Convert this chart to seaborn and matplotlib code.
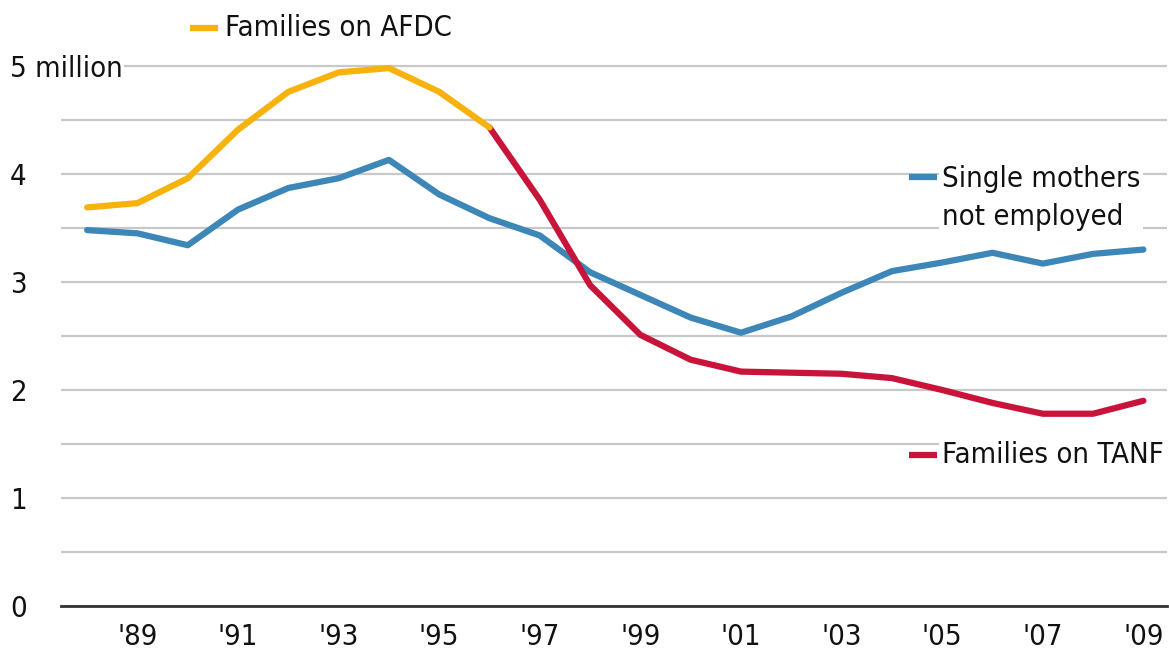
import pandas as pd
import numpy as np
import matplotlib.pyplot as plt
import seaborn as sns

# --------------------------------------------------
# DATA (millions)
# --------------------------------------------------

years = list(range(1988, 2010))
single_mothers = [3.48, 3.45, 3.34, 3.67, 3.87, 3.96, 4.13, 3.81, 3.59, 3.43, 3.09,
                  2.88, 2.67, 2.53, 2.68, 2.90, 3.10, 3.18, 3.27, 3.17, 3.26, 3.30]

afdc_years = list(range(1988, 1997))
afdc = [3.69, 3.73, 3.96, 4.41, 4.76, 4.94, 4.98, 4.76, 4.43]

tanf_years = list(range(1996, 2010))
tanf = [4.43, 3.76, 2.97, 2.51, 2.28, 2.17, 2.16, 2.15, 2.11, 2.00, 1.88, 1.78, 1.78, 1.90]

y_ticks = [0, 1, 2, 3, 4, 5]
y_labels = ["0", "1", "2", "3", "4", "5 million"]

series_names = ["Single mothers not employed", "Families on AFDC", "Families on TANF"]
colors = {"Single mothers not employed": "#3C86B8",
          "Families on AFDC": "#F7B20C",
          "Families on TANF": "#C8143A"}

df = pd.concat([
    pd.DataFrame({"year": years, "value": single_mothers, "series": series_names[0]}),
    pd.DataFrame({"year": afdc_years, "value": afdc, "series": series_names[1]}),
    pd.DataFrame({"year": tanf_years, "value": tanf, "series": series_names[2]}),
])

# --------------------------------------------------
# PLOT
# --------------------------------------------------

sns.set_style("white")
plt.rcParams["font.family"] = ["DejaVu Sans"]
plt.rcParams["font.stretch"] = "condensed"

fig = plt.figure(figsize=(11.69, 6.53), dpi=100)
ax = fig.add_axes([61 / 1169, 1 - 606 / 653, (1167 - 61) / 1169, (606 - 40) / 653])

sns.lineplot(data=df, x="year", y="value", hue="series", palette=colors,
             hue_order=[series_names[0], series_names[2], series_names[1]],
             linewidth=4.5, legend=False, ax=ax)
for line in ax.lines:
    line.set_solid_joinstyle("round")
    line.set_solid_capstyle("round")

ax.set_xlim(1987.48, 2009.47)
ax.set_ylim(0, 5.24)

for s in ["top", "right", "left"]:
    ax.spines[s].set_visible(False)
ax.spines["bottom"].set_color("#333333")
ax.spines["bottom"].set_linewidth(2)

# gridlines every half million
ax.set_yticks(y_ticks)
ax.set_yticks(np.arange(0.5, 5.5, 1.0), minor=True)
ax.grid(axis="y", which="both", color="#c8c8c8", linewidth=1.6)
ax.set_axisbelow(True)
ax.set_yticklabels(y_labels, fontsize=21, color="#111111", ha="left")
ax.tick_params(axis="y", which="both", length=0, pad=51 * 0.72)
for lbl in ax.get_yticklabels():
    if "million" in lbl.get_text():
        lbl.set_bbox(dict(facecolor="white", edgecolor="none", pad=1))

odd_years = [y for y in years if y % 2 == 1]
even_years = [y for y in years if y % 2 == 0]
ax.set_xticks(odd_years)
ax.set_xticks(even_years, minor=True)
ax.set_xticklabels(["'" + str(y)[-2:] for y in odd_years], fontsize=21, color="#111111")
ax.tick_params(axis="x", which="both", direction="in", length=9, width=1.5,
               color="#333333", pad=12)
ax.set_xlabel("")
ax.set_ylabel("")

# series labels
label_box = dict(facecolor="white", edgecolor="none", pad=2)
ax.text(1990.75, 5.35, "Families on AFDC", fontsize=21, color="#111111",
        va="center", ha="left", bbox=label_box, clip_on=False)
ax.plot([1990.05, 1990.6], [5.35, 5.35], color=colors["Families on AFDC"],
        linewidth=4.5, clip_on=False, solid_capstyle="butt")

ax.text(2005.0, 3.78, "Single mothers\nnot employed", fontsize=21,
        color="#111111", va="center", ha="left", linespacing=1.45, bbox=label_box)
ax.plot([2004.35, 2004.9], [3.97, 3.97], color=colors["Single mothers not employed"],
        linewidth=4.5, solid_capstyle="butt")

ax.text(2005.0, 1.40, "Families on TANF", fontsize=21, color="#111111",
        va="center", ha="left", bbox=label_box)
ax.plot([2004.35, 2004.9], [1.40, 1.40], color=colors["Families on TANF"],
        linewidth=4.5, solid_capstyle="butt")

plt.savefig("out.png", dpi=100)
